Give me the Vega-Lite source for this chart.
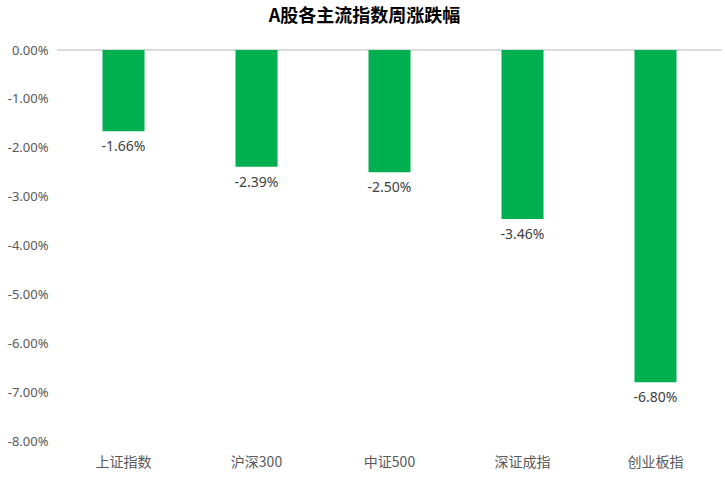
{
  "$schema": "https://vega.github.io/schema/vega-lite/v6.json",
  "width": 665,
  "height": 391,
  "autosize": {"type": "none"},
  "padding": {"left": 57, "top": 50, "right": 3, "bottom": 42},
  "background": "white",
  "title": {
    "text": "A股各主流指数周涨跌幅",
    "font": "Noto Sans CJK SC",
    "fontSize": 18,
    "fontWeight": "bold",
    "color": "#000000",
    "anchor": "middle",
    "dx": -25,
    "offset": 18
  },
  "config": {
    "view": {"stroke": null},
    "locale": {
      "number": {
        "decimal": ".",
        "thousands": ",",
        "grouping": [3],
        "currency": ["$", ""],
        "minus": "-"
      }
    }
  },
  "data": {
    "values": [
      {"index": "上证指数", "change": -0.0166},
      {"index": "沪深300", "change": -0.0239},
      {"index": "中证500", "change": -0.0250},
      {"index": "深证成指", "change": -0.0346},
      {"index": "创业板指", "change": -0.0680}
    ]
  },
  "encoding": {
    "x": {
      "field": "index",
      "type": "nominal",
      "sort": null,
      "scale": {"paddingInner": 0.684, "paddingOuter": 0.342},
      "axis": {
        "title": null,
        "labelAngle": 0,
        "domain": false,
        "ticks": false,
        "labelPadding": 14,
        "labelFont": "Noto Sans CJK SC",
        "labelFontSize": 14,
        "labelColor": "#595959"
      }
    },
    "y": {
      "field": "change",
      "type": "quantitative",
      "scale": {"domain": [-0.08, 0], "nice": false},
      "axis": {
        "title": null,
        "format": ".2%",
        "values": [0, -0.01, -0.02, -0.03, -0.04, -0.05, -0.06, -0.07, -0.08],
        "domain": false,
        "ticks": false,
        "grid": false,
        "labelPadding": 9,
        "labelFont": "Noto Sans",
        "labelFontSize": 13,
        "labelColor": "#595959"
      }
    }
  },
  "layer": [
    {
      "mark": {"type": "rule", "color": "#d9d9d9", "strokeWidth": 1},
      "encoding": {
        "x": {"value": 0},
        "x2": {"value": 665},
        "y": {"datum": 0}
      }
    },
    {
      "mark": {"type": "bar", "color": "#00B050"}
    },
    {
      "mark": {
        "type": "text",
        "baseline": "top",
        "dy": 9,
        "font": "Noto Sans",
        "fontSize": 14,
        "color": "#404040"
      },
      "encoding": {
        "text": {"field": "change", "type": "quantitative", "format": ".2%"}
      }
    }
  ]
}
